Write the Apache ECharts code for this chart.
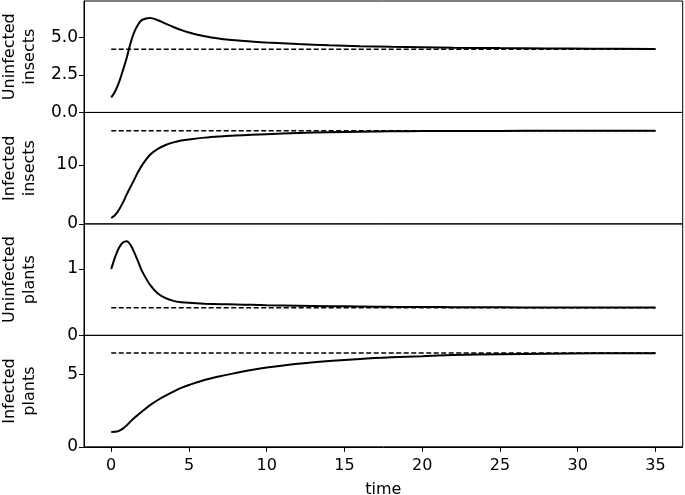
<!DOCTYPE html>
<html><head><meta charset="utf-8">
<script src="https://cdn.jsdelivr.net/npm/echarts@6/dist/echarts.min.js"></script>
<style>html,body{margin:0;padding:0;background:#fff}#c{width:685px;height:495px}</style>
</head><body><div id="c"></div>
<script>
const time = [0,0.25,0.5,0.75,1,1.25,1.5,1.75,2,2.5,3,3.5,4,4.5,5,6,7,8,9,10,12,14,16,18,20,22,25,28,31,35];
const uninfectedInsects = [1.0,1.4,2.0,2.8,3.65,4.65,5.4,5.9,6.18,6.3,6.15,5.92,5.7,5.5,5.33,5.08,4.92,4.81,4.73,4.66,4.56,4.48,4.42,4.38,4.35,4.32,4.29,4.27,4.25,4.23];
const infectedInsects = [1.0,1.5,2.4,3.6,5.0,6.3,7.6,8.9,10.0,11.7,12.7,13.35,13.8,14.1,14.3,14.6,14.8,14.95,15.07,15.18,15.38,15.52,15.6,15.66,15.7,15.72,15.74,15.75,15.75,15.76];
const uninfectedPlants = [1.0,1.18,1.32,1.4,1.42,1.36,1.24,1.1,0.96,0.76,0.63,0.56,0.52,0.5,0.49,0.478,0.47,0.465,0.46,0.455,0.447,0.44,0.435,0.43,0.427,0.425,0.422,0.42,0.419,0.418];
const infectedPlants = [1.02,1.03,1.1,1.25,1.48,1.75,2.0,2.22,2.45,2.87,3.22,3.52,3.8,4.05,4.25,4.6,4.86,5.08,5.28,5.45,5.71,5.9,6.05,6.16,6.24,6.31,6.37,6.41,6.43,6.44];
const equilibria = [4.21, 15.76, 0.417, 6.45];
const panelNames = ['Uninfected\ninsects','Infected\ninsects','Uninfected\nplants','Infected\nplants'];
const yMax = [7.43, 18.86, 1.68, 7.67];
const yTicks = [[0,2.5,5.0],[0,10],[0,1],[0,5]];
const yTickDecimals = [1,0,0,0];
const xTicks = [0,5,10,15,20,25,30,35];
const xRange = [-1.75, 36.75];
const xLabel = 'time';

const seriesValues = [uninfectedInsects, infectedInsects, uninfectedPlants, infectedPlants];
const FONT = 'DejaVu Sans';
const grids = [], xAxes = [], yAxes = [], series = [];
const top0 = 1, h = 111.45;
for (let i = 0; i < 4; i++) {
  const last = i === 3;
  grids.push({left: 84, right: 2.3, top: top0 + i * h, height: h, show: true, borderColor: '#000', borderWidth: 1, containLabel: false, outerBoundsMode: 'none'});
  xAxes.push({
    type: 'value', gridIndex: i, min: xRange[0], max: xRange[1],
    axisLine: {show: last, onZero: false, lineStyle: {color: '#000', width: 1}},
    axisTick: {show: last, length: 5, customValues: xTicks, lineStyle: {color: '#000', width: 1}},
    axisLabel: {show: last, customValues: xTicks, margin: 11, fontSize: 16, fontFamily: FONT, color: '#000'},
    splitLine: {show: false},
    name: last ? xLabel : '', nameLocation: 'middle', nameGap: 35,
    nameTextStyle: {fontSize: 16, fontFamily: FONT, color: '#000'}
  });
  const dec = yTickDecimals[i];
  yAxes.push({
    type: 'value', gridIndex: i, min: 0, max: yMax[i],
    axisLine: {show: true, onZero: false, lineStyle: {color: '#000', width: 1}},
    axisTick: {show: true, length: 5, customValues: yTicks[i], lineStyle: {color: '#000', width: 1}},
    axisLabel: {customValues: yTicks[i], formatter: v => Number(v).toFixed(dec), margin: 6, fontSize: 17, fontFamily: FONT, color: '#000'},
    splitLine: {show: false},
    name: panelNames[i], nameLocation: 'middle', nameRotate: 90, nameGap: 44.5,
    nameTextStyle: {fontSize: 16, lineHeight: 20, fontFamily: FONT, color: '#000', align: 'center'}
  });
  series.push({
    type: 'line', xAxisIndex: i, yAxisIndex: i, showSymbol: false, silent: true,
    data: [[0, equilibria[i]], [35, equilibria[i]]],
    lineStyle: {color: '#000', width: 1.5, type: [5, 2.5]}, z: 2
  });
  series.push({
    type: 'line', xAxisIndex: i, yAxisIndex: i, showSymbol: false, silent: true,
    smooth: 0.35,
    data: time.map((t, j) => [t, seriesValues[i][j]]),
    lineStyle: {color: '#000', width: 2}, z: 3
  });
}
const chart = echarts.init(document.getElementById('c'), null, {renderer: 'canvas'});
chart.setOption({animation: false, backgroundColor: '#fff', grid: grids, xAxis: xAxes, yAxis: yAxes, series: series});
</script></body></html>
